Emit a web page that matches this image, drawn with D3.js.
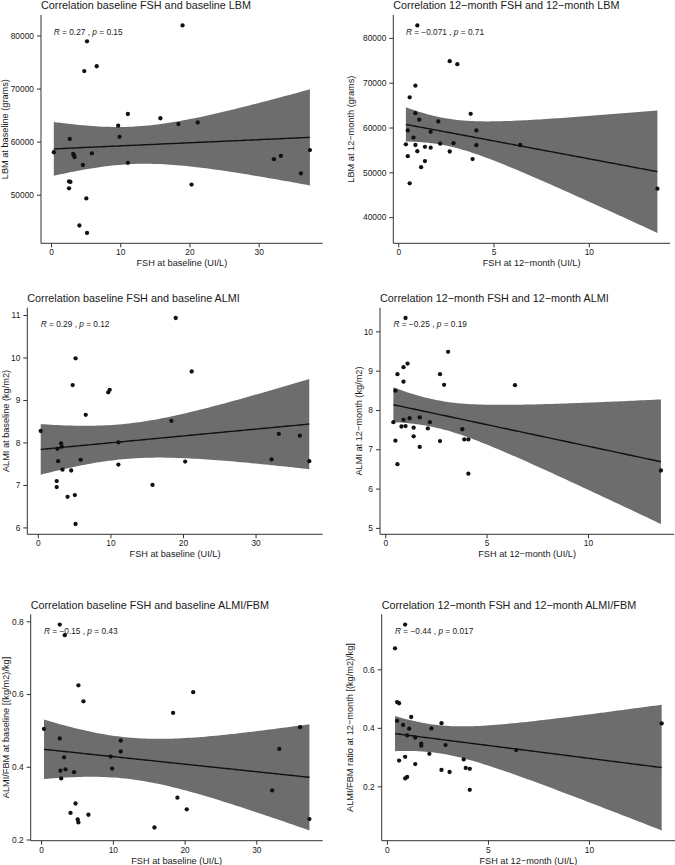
<!DOCTYPE html>
<html><head><meta charset="utf-8">
<script src="https://cdn.jsdelivr.net/npm/d3@7"></script>
<style>body{margin:0;background:#fff}svg{display:block;font-family:"Liberation Sans",Arial,sans-serif}</style>
</head><body><svg id="c" width="675" height="865"></svg>
<script>
// ---- data ----
const fshBaseline = [0.4, 2.6, 2.6, 2.7, 2.8, 3.2, 3.3, 3.4, 4.1, 4.6, 4.8, 5.1, 5.2, 5.2, 5.9, 6.6, 9.7, 9.9, 11.1, 11.1, 15.8, 18.4, 19.0, 20.3, 21.2, 32.2, 33.2, 36.1, 37.4];
const lbmBaseline = [58000, 52500, 51200, 60500, 52400, 57700, 57400, 57100, 44200, 55600, 73300, 49300, 78900, 42800, 57800, 74200, 63000, 60900, 65200, 56000, 64400, 63300, 81900, 51900, 63600, 56700, 57300, 54000, 58400];
const almiBaseline = [8.27, 7.09, 6.95, 7.85, 7.56, 7.98, 7.90, 7.36, 6.72, 7.34, 9.35, 6.76, 9.98, 6.08, 7.59, 8.65, 9.18, 9.24, 7.48, 8.00, 7.00, 8.51, 10.93, 7.55, 9.67, 7.60, 8.20, 8.16, 7.56];
const ratioBaseline = [0.504, 0.791, 0.478, 0.389, 0.368, 0.426, 0.762, 0.393, 0.273, 0.385, 0.299, 0.255, 0.624, 0.247, 0.580, 0.268, 0.428, 0.395, 0.472, 0.442, 0.233, 0.548, 0.315, 0.283, 0.605, 0.335, 0.449, 0.509, 0.256];

const fsh12 = [0.4, 0.5, 0.5, 0.6, 0.6, 0.8, 0.9, 0.9, 0.9, 1.0, 1.0, 1.1, 1.2, 1.4, 1.4, 1.7, 1.7, 2.1, 2.2, 2.7, 2.7, 2.9, 3.1, 3.8, 3.9, 4.1, 4.1, 6.4, 13.6];
const lbm12 = [56250, 59350, 53600, 66750, 47550, 57750, 69350, 63200, 56100, 82800, 54700, 61750, 51150, 55700, 52500, 59050, 55500, 61350, 56400, 74800, 54650, 56500, 74150, 63050, 52950, 59350, 56050, 56100, 46350];
const almi12 = [7.69, 8.49, 7.22, 8.91, 6.62, 7.58, 9.09, 8.72, 7.75, 10.34, 7.59, 9.18, 7.79, 7.55, 7.33, 7.81, 7.06, 7.53, 7.69, 8.91, 7.21, 8.64, 9.48, 7.51, 7.25, 7.25, 6.38, 8.63, 6.46];
const ratio12 = [0.672, 0.488, 0.424, 0.288, 0.484, 0.410, 0.301, 0.753, 0.227, 0.232, 0.374, 0.397, 0.437, 0.367, 0.276, 0.346, 0.339, 0.311, 0.398, 0.416, 0.256, 0.341, 0.249, 0.292, 0.263, 0.260, 0.188, 0.324, 0.415];

const xTicksBaseline = [0, 10, 20, 30];
const xTicks12 = [0, 5, 10];
const lbmBaselineTicks = [50000, 60000, 70000, 80000];
const lbm12Ticks = [40000, 50000, 60000, 70000, 80000];
const almiBaselineTicks = [6, 7, 8, 9, 10, 11];
const almi12Ticks = [5, 6, 7, 8, 9, 10];
const ratioBaselineTicks = [0.2, 0.4, 0.6, 0.8];
const ratio12Ticks = [0.2, 0.4, 0.6];

const titles = [
  "Correlation baseline FSH and baseline LBM",
  "Correlation 12\u2212month FSH and 12\u2212month LBM",
  "Correlation baseline FSH and baseline ALMI",
  "Correlation 12\u2212month FSH and 12\u2212month ALMI",
  "Correlation baseline FSH and baseline ALMI/FBM",
  "Correlation 12\u2212month FSH and 12\u2212month ALMI/FBM"
];
const xLabels = ["FSH at baseline (UI/L)", "FSH at 12\u2212month (UI/L)", "FSH at baseline (UI/L)", "FSH at 12\u2212month (UI/L)", "FSH at baseline (UI/L)", "FSH at 12\u2212month (UI/L)"];
const yLabels = ["LBM at baseline (grams)", "LBM at 12\u2212month (grams)", "ALMI at baseline (kg/m2)", "ALMI at 12\u2212month (kg/m2)", "ALMI/FBM at baseline [(kg/m2)/kg]", "ALMI/FBM ratio at 12\u2212month [(kg/m2)/kg]"];
const rValues = ["0.27", "\u22120.071", "0.29", "\u22120.25", "\u22120.15", "\u22120.44"];
const pValues = ["0.15", "0.71", "0.12", "0.19", "0.43", "0.017"];

// ---- layout ----
const boxes = [
  [41, 15, 322.7, 243.3], [393.3, 15, 670, 243.3],
  [27.3, 307.7, 322.7, 534.3], [380, 307.7, 674.3, 534.3],
  [30.7, 614.3, 322.7, 840.7], [381.7, 614.3, 675, 840.7]
];
const yTitleX = [5, 351, 6, 358.3, 6, 350];

const panels = [
  {x: fshBaseline, y: lbmBaseline, xt: xTicksBaseline, yt: lbmBaselineTicks},
  {x: fsh12, y: lbm12, xt: xTicks12, yt: lbm12Ticks},
  {x: fshBaseline, y: almiBaseline, xt: xTicksBaseline, yt: almiBaselineTicks},
  {x: fsh12, y: almi12, xt: xTicks12, yt: almi12Ticks},
  {x: fshBaseline, y: ratioBaseline, xt: xTicksBaseline, yt: ratioBaselineTicks},
  {x: fsh12, y: ratio12, xt: xTicks12, yt: ratio12Ticks}
];

function lmBand(xs, ys, n) {
  const N = xs.length, mx = d3.mean(xs), my = d3.mean(ys);
  let sxx = 0, sxy = 0;
  xs.forEach((x, i) => { sxx += (x - mx) ** 2; sxy += (x - mx) * (ys[i] - my); });
  const b = sxy / sxx, a = my - b * mx;
  let sse = 0;
  xs.forEach((x, i) => { sse += (ys[i] - (a + b * x)) ** 2; });
  const s = Math.sqrt(sse / (N - 2));
  const t = 2.0518; // t(0.975, df = 27)
  const [x0, x1] = d3.extent(xs);
  return d3.range(n).map(i => {
    const x = x0 + (x1 - x0) * i / (n - 1);
    const yh = a + b * x;
    const se = s * Math.sqrt(1 / N + (x - mx) ** 2 / sxx);
    return {x, y: yh, lo: yh - t * se, hi: yh + t * se};
  });
}

const svg = d3.select("#c");
const fmt = v => (Math.abs(v) < 1 ? d3.format(".1f")(v) : String(v));

panels.forEach((p, k) => {
  const [L, T, R, B] = boxes[k];
  const band = lmBand(p.x, p.y, 80);
  const xe = d3.extent(p.x), xr = xe[1] - xe[0];
  const yAll = p.y.concat(band.map(d => d.lo), band.map(d => d.hi));
  const ye = d3.extent(yAll), yr = ye[1] - ye[0];
  const xs = d3.scaleLinear().domain([xe[0] - 0.05 * xr, xe[1] + 0.05 * xr]).range([L, R]);
  const ys = d3.scaleLinear().domain([ye[0] - 0.05 * yr, ye[1] + 0.05 * yr]).range([B, T]);
  const g = svg.append("g");

  g.append("path").datum(band)
    .attr("d", d3.area().x(d => xs(d.x)).y0(d => ys(d.lo)).y1(d => ys(d.hi)))
    .attr("fill", "#6d6d6d");
  g.append("path").datum(band)
    .attr("d", d3.line().x(d => xs(d.x)).y(d => ys(d.y)))
    .attr("fill", "none").attr("stroke", "#111").attr("stroke-width", 1.4);

  g.selectAll("circle.pt").data(p.x.map((x, i) => [x, p.y[i]])).join("circle")
    .attr("class", "pt").attr("cx", d => xs(d[0])).attr("cy", d => ys(d[1]))
    .attr("r", 2.15).attr("fill", "#111");

  const xAxis = d3.axisBottom(xs).tickValues(p.xt).tickSize(4).tickSizeOuter(0).tickPadding(2).tickFormat(d3.format("d"));
  const yAxis = d3.axisLeft(ys).tickValues(p.yt).tickSize(4).tickSizeOuter(0).tickPadding(3).tickFormat(fmt);
  const gx = g.append("g").attr("transform", `translate(0,${B})`).call(xAxis);
  const gy = g.append("g").attr("transform", `translate(${L},0)`).call(yAxis);
  [gx, gy].forEach(a => {
    a.select(".domain").attr("d", null);
    a.selectAll("line").attr("stroke", "#333");
    a.selectAll("text").attr("fill", "#1a1a1a").attr("font-size", 8.4).attr("font-family", "Liberation Sans, Arial, sans-serif");
  });
  g.append("line").attr("x1", L).attr("x2", R).attr("y1", B).attr("y2", B).attr("stroke", "#333").attr("stroke-width", 1);
  g.append("line").attr("x1", L).attr("x2", L).attr("y1", T).attr("y2", B).attr("stroke", "#333").attr("stroke-width", 1);

  g.append("text").attr("x", L).attr("y", T - 5.7).attr("font-size", 10.8).attr("fill", "#1a1a1a").text(titles[k]);
  g.append("text").attr("x", (L + R) / 2).attr("y", B + 23).attr("text-anchor", "middle")
    .attr("font-size", 9.2).attr("fill", "#1a1a1a").text(xLabels[k]);
  g.append("text").attr("transform", `translate(${yTitleX[k] + 3.2},${(T + B) / 2}) rotate(-90)`)
    .attr("text-anchor", "middle").attr("font-size", 9.2).attr("fill", "#1a1a1a").text(yLabels[k]);

  const lab = g.append("text").attr("x", xs(xe[0])).attr("y", T + 0.074 * (B - T)).attr("dy", "0.35em")
    .attr("font-size", 8.3).attr("fill", "#1a1a1a");
  lab.append("tspan").attr("font-style", "italic").text("R");
  lab.append("tspan").text(" = " + rValues[k] + " , ");
  lab.append("tspan").attr("font-style", "italic").text("p");
  lab.append("tspan").text(" = " + pValues[k]);
});
</script></body></html>
